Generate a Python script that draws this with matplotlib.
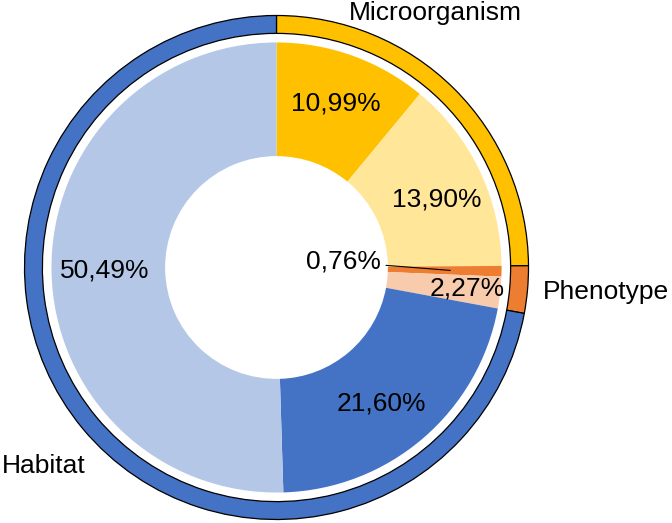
import numpy as np
import matplotlib.pyplot as plt

plt.rcParams['font.family'] = ['Liberation Sans', 'DejaVu Sans']

# inner ring: sub-slices
sub_values = [10.99, 13.90, 0.76, 2.27, 21.60, 50.49]
sub_labels = ['10,99%', '13,90%', '0,76%', '2,27%', '21,60%', '50,49%']
sub_colors = ['#FFC000', '#FFE699', '#ED7D31', '#F8CBAD', '#4472C4', '#B4C7E7']

# outer ring: categories
cat_names = ['Microorganism', 'Phenotype', 'Habitat']
cat_values = [10.99 + 13.90, 0.76 + 2.27, 21.60 + 50.49]
cat_colors = ['#FFC000', '#ED7D31', '#4472C4']

W, H = 672, 523
cx, cy, R = 276.5, 267.5, 252.0  # centre and outer radius in pixels

fig = plt.figure(figsize=(W / 100, H / 100), dpi=100)
ax = fig.add_axes([(cx - R) / W, (H - cy - R) / H, 2 * R / W, 2 * R / H])
ax.set_xlim(-1, 1)
ax.set_ylim(-1, 1)
ax.axis('off')

# outer thin ring with black edge
ax.pie(cat_values, colors=cat_colors, radius=1.0, startangle=90,
       counterclock=False,
       wedgeprops=dict(width=0.071, edgecolor='black', linewidth=0.9))

# inner donut
wedges, _ = ax.pie(sub_values, colors=sub_colors, radius=0.893, startangle=90,
                   counterclock=False,
                   wedgeprops=dict(width=0.451, linewidth=0))
ax.set_xlim(-1, 1)
ax.set_ylim(-1, 1)

fs = 19
label_r = [0.69, 0.69, 0.69, 0.76, 0.68, 0.68]
label_dang = [0, -2.5, 0, 0, -3, 0]
for w, lab, r, da in zip(wedges, sub_labels, label_r, label_dang):
    ang = np.deg2rad((w.theta1 + w.theta2) / 2 + da)
    x, y = r * np.cos(ang), r * np.sin(ang)
    if lab == '0,76%':
        ax.annotate(lab, xy=(x, y), xytext=(0.264, 0.022),
                    ha='center', va='center', fontsize=fs,
                    arrowprops=dict(arrowstyle='-', color='black', lw=0.8,
                                    shrinkA=2, shrinkB=0))
    else:
        ax.text(x, y, lab, ha='center', va='center', fontsize=fs)

# category labels
ax.text((435.5 - cx) / R, (cy - 13) / R, cat_names[0], ha='center', va='center', fontsize=fs)
ax.text((543 - cx) / R, (cy - 292) / R, cat_names[1], ha='left', va='center', fontsize=fs)
ax.text((2 - cx) / R, (cy - 466) / R, cat_names[2], ha='left', va='center', fontsize=fs)

fig.savefig('out.png', dpi=100)
